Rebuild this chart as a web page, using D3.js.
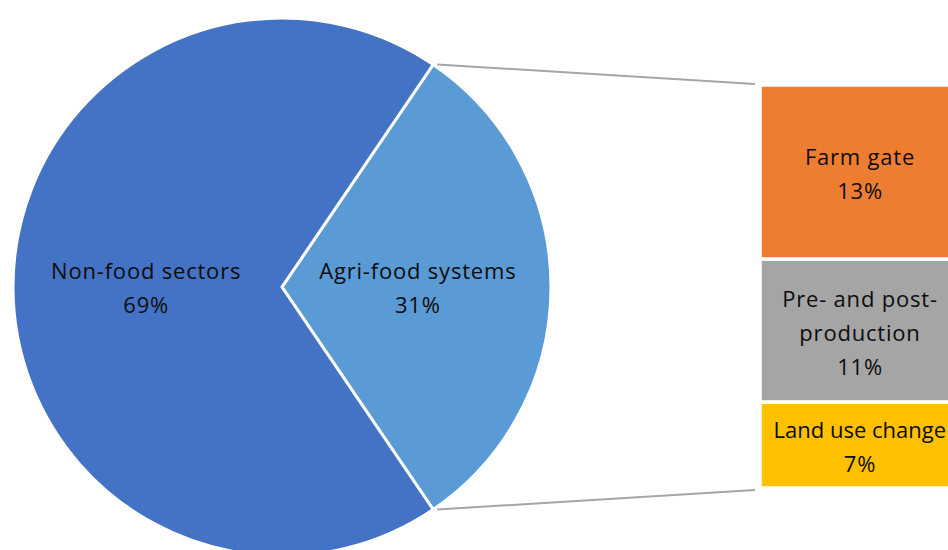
<!DOCTYPE html>
<html><head><meta charset="utf-8">
<script src="https://cdn.jsdelivr.net/npm/d3@7"></script>
<style>html,body{margin:0;padding:0;background:#fff;overflow:hidden}</style>
</head><body>
<svg id="c" width="948" height="550"></svg>
<script>
const pieCategories = ["Agri-food systems", "Non-food sectors"];
const pieValues = [31, 69];
const barCategories = [["Farm gate"], ["Pre- and post-", "production"], ["Land use change"]];
const barValues = [13.4, 11.0, 6.6];
const pieColors = ["#5B9BD5", "#4472C4"];
const barColors = ["#ED7D31", "#A5A5A5", "#FFC000"];

const svg = d3.select("#c");
const W = 948;
const cx = 282, cy = 287, r = 269;
const font = "'Open Sans', Lato, sans-serif";
const fs = 22;
const ls = 0.8;

const agriShare = pieValues[0] / d3.sum(pieValues);
const start = Math.PI / 2 - agriShare * Math.PI;
const pie = d3.pie().sort(null).startAngle(start).endAngle(start + 2 * Math.PI);
const arcs = pie(pieValues);
const arc = d3.arc().innerRadius(0).outerRadius(r);
const labelArc = d3.arc().innerRadius(r * 0.505).outerRadius(r * 0.505);

const g = svg.append("g").attr("transform", `translate(${cx},${cy})`);
g.selectAll("path").data(arcs).join("path")
  .attr("d", arc).attr("fill", (d, i) => pieColors[i])
  .attr("stroke", "#fff").attr("stroke-width", 3).attr("stroke-linejoin", "miter");

const fmt = d3.format(".0f");
g.selectAll("text.pl").data(arcs).join("text").attr("class", "pl")
  .attr("font-family", font).attr("font-size", fs).attr("fill", "#0d0d0d")
  .attr("letter-spacing", ls).attr("text-anchor", "middle")
  .each(function (d, i) {
    const [x, y] = labelArc.centroid(d);
    const t = d3.select(this);
    t.append("tspan").attr("x", x).attr("y", y - 8).text(pieCategories[i]);
    t.append("tspan").attr("x", x).attr("y", y + 26).text(fmt(d.value) + "%");
  });

// bar of pie
const barX = 760, barW = 200;
const total = d3.sum(barValues);
const y = d3.scaleLinear().domain([0, total]).range([85, 488]);
let acc = 0;
const stack = barValues.map((v, i) => { const o = { v, i, y0: acc, y1: acc + v }; acc += v; return o; });
svg.selectAll("rect.b").data(stack).join("rect").attr("class", "b")
  .attr("x", barX).attr("width", barW)
  .attr("y", d => y(d.y0)).attr("height", d => y(d.y1) - y(d.y0))
  .attr("fill", d => barColors[d.i]).attr("stroke", "#fff").attr("stroke-width", 3.5);

svg.selectAll("text.bl").data(stack).join("text").attr("class", "bl")
  .attr("font-family", font).attr("font-size", fs).attr("fill", "#0d0d0d")
  .attr("letter-spacing", ls)
  .each(function (d) {
    const lines = barCategories[d.i].concat([fmt(d.v) + "%"]);
    const mid = (y(d.y0) + y(d.y1)) / 2;
    const lh = 34;
    const t = d3.select(this);
    lines.forEach((s, k) => {
      const ts = t.append("tspan")
        .attr("y", mid + 10 + (k - (lines.length - 1) / 2) * lh).text(s);
      // centre on the bar, but keep the line inside the page
      let w = ts.node().getComputedTextLength();
      let cxL = barX + barW / 2;
      if (cxL + w / 2 > W - 2) {
        ts.attr("letter-spacing", 0);
        w = ts.node().getComputedTextLength();
        if (cxL + w / 2 > W - 2) cxL = W - 2 - w / 2;
      }
      ts.attr("x", cxL - w / 2);
    });
  });

// connector lines
const a0 = arcs[0].startAngle, a1 = arcs[0].endAngle;
const p0 = [cx + r * Math.sin(a0), cy - r * Math.cos(a0)];
const p1 = [cx + r * Math.sin(a1), cy - r * Math.cos(a1)];
svg.append("line").attr("x1", p0[0] + 4).attr("y1", p0[1]).attr("x2", barX - 5).attr("y2", y(0) - 1)
  .attr("stroke", "#A6A6A6").attr("stroke-width", 2);
svg.append("line").attr("x1", p1[0] + 4).attr("y1", p1[1]).attr("x2", barX - 5).attr("y2", y(total) + 2)
  .attr("stroke", "#A6A6A6").attr("stroke-width", 2);
</script>
</body></html>
